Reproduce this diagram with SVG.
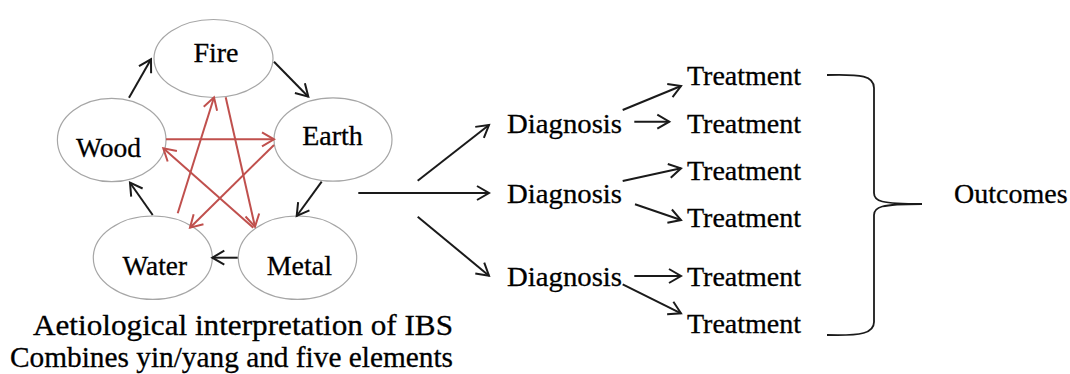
<svg xmlns="http://www.w3.org/2000/svg" width="1070" height="374" viewBox="0 0 1070 374">
  <style>
    text { font-family: 'Liberation Serif', 'Times New Roman', serif; font-size: 28px; fill: #000; stroke: #000; stroke-width: 0.3; }
    .caption { font-size: 30px; }
    .node { fill: #fff; stroke: #a6a6a6; stroke-width: 1.2; }
    .gen { fill: none; stroke: #1a1a1a; stroke-width: 2; marker-end: url(#head-black); }
    .ctrl { fill: none; stroke: #c0504d; stroke-width: 2; marker-end: url(#head-red); }
    .flow { fill: none; stroke: #1a1a1a; stroke-width: 2; marker-end: url(#head-black); }
    .brace { fill: none; stroke: #1a1a1a; stroke-width: 1.8; }
  </style>
  <defs>
    <marker id="head-black" markerUnits="userSpaceOnUse" viewBox="-16 -9 18 18" markerWidth="18" markerHeight="18" refX="0" refY="0" orient="auto" overflow="visible">
      <path d="M -12,-7 L 0,0 L -12,7" fill="none" stroke="#1a1a1a" stroke-width="2"/>
    </marker>
    <marker id="head-red" markerUnits="userSpaceOnUse" viewBox="-16 -9 18 18" markerWidth="18" markerHeight="18" refX="0" refY="0" orient="auto" overflow="visible">
      <path d="M -12,-7 L 0,0 L -12,7" fill="none" stroke="#c0504d" stroke-width="2"/>
    </marker>
  </defs>

  <!-- five element nodes -->
  <g id="fire">
    <ellipse class="node" cx="213.5" cy="58.5" rx="59.5" ry="39"/>
    <text x="216" y="62" text-anchor="middle">Fire</text>
  </g>
  <g id="earth">
    <ellipse class="node" cx="333" cy="139.5" rx="59" ry="41.7"/>
    <text x="332.5" y="145" text-anchor="middle">Earth</text>
  </g>
  <g id="wood">
    <ellipse class="node" cx="111.7" cy="140" rx="54.3" ry="41.7"/>
    <text x="76" y="156.5" textLength="65" lengthAdjust="spacingAndGlyphs">Wood</text>
  </g>
  <g id="water">
    <ellipse class="node" cx="152.8" cy="257.7" rx="59.5" ry="41.7"/>
    <text x="122.5" y="275" textLength="64.5" lengthAdjust="spacingAndGlyphs">Water</text>
  </g>
  <g id="metal">
    <ellipse class="node" cx="297.5" cy="257.7" rx="59.2" ry="41.7"/>
    <text x="299.3" y="275" text-anchor="middle">Metal</text>
  </g>

  <!-- caption -->
  <g id="caption">
    <text class="caption" x="33" y="335" font-size="31" textLength="420" lengthAdjust="spacingAndGlyphs">Aetiological interpretation of IBS</text>
    <text class="caption" x="10" y="367" textLength="443" lengthAdjust="spacingAndGlyphs">Combines yin/yang and five elements</text>
  </g>

  <!-- diagnosis nodes -->
  <g id="diagnosis-1"><text x="507" y="133" textLength="115" lengthAdjust="spacingAndGlyphs">Diagnosis</text></g>
  <g id="diagnosis-2"><text x="507" y="203" textLength="115" lengthAdjust="spacingAndGlyphs">Diagnosis</text></g>
  <g id="diagnosis-3"><text x="507" y="286" textLength="115" lengthAdjust="spacingAndGlyphs">Diagnosis</text></g>

  <!-- treatment nodes -->
  <g id="treatment-1"><text x="687" y="85">Treatment</text></g>
  <g id="treatment-2"><text x="687" y="132.5">Treatment</text></g>
  <g id="treatment-3"><text x="687" y="179.5">Treatment</text></g>
  <g id="treatment-4"><text x="687" y="227">Treatment</text></g>
  <g id="treatment-5"><text x="687" y="285.5">Treatment</text></g>
  <g id="treatment-6"><text x="687" y="333">Treatment</text></g>

  <!-- outcomes -->
  <g id="outcomes">
    <text x="954" y="203">Outcomes</text>
  </g>

  <!-- connectors -->
  <g id="connectors">
    <!-- generating cycle -->
    <line class="gen" x1="129" y1="97.7" x2="151" y2="59.3"/>
    <line class="gen" x1="274" y1="61.7" x2="308.3" y2="96.7"/>
    <line class="gen" x1="321.7" y1="181.7" x2="296.7" y2="216"/>
    <line class="gen" x1="237.7" y1="257.7" x2="212.3" y2="257.7"/>
    <line class="gen" x1="152.7" y1="215" x2="130" y2="182.7"/>
    <!-- controlling star -->
    <line class="ctrl" x1="166" y1="139.3" x2="274" y2="139.3"/>
    <line class="ctrl" x1="177.7" y1="213.3" x2="214" y2="97.3"/>
    <line class="ctrl" x1="225.7" y1="97.3" x2="255" y2="226.7"/>
    <line class="ctrl" x1="274" y1="145" x2="190" y2="227.7"/>
    <line class="ctrl" x1="253.3" y1="227.7" x2="163.3" y2="148.3"/>
    <!-- to diagnoses -->
    <line class="flow" x1="417.7" y1="180.7" x2="489" y2="125"/>
    <line class="flow" x1="358.3" y1="193" x2="489" y2="193"/>
    <line class="flow" x1="417.7" y1="216.7" x2="489" y2="275.7"/>
    <!-- to treatments -->
    <line class="flow" x1="622.7" y1="110" x2="681" y2="86"/>
    <line class="flow" x1="634.3" y1="121.7" x2="669.3" y2="121.7"/>
    <line class="flow" x1="622.7" y1="181" x2="681" y2="168.3"/>
    <line class="flow" x1="635" y1="204.3" x2="681" y2="220"/>
    <line class="flow" x1="634.3" y1="276" x2="681" y2="276"/>
    <line class="flow" x1="622.7" y1="284.3" x2="681" y2="313.3"/>
    <!-- brace -->
    <path class="brace" d="M 827,75 C 862,74 874,76 874,88 L 874,193 C 874,201 880,204 922,204 C 880,204 874,207 874,215 L 874,322 C 874,333 862,336 827,335"/>
  </g>
</svg>
